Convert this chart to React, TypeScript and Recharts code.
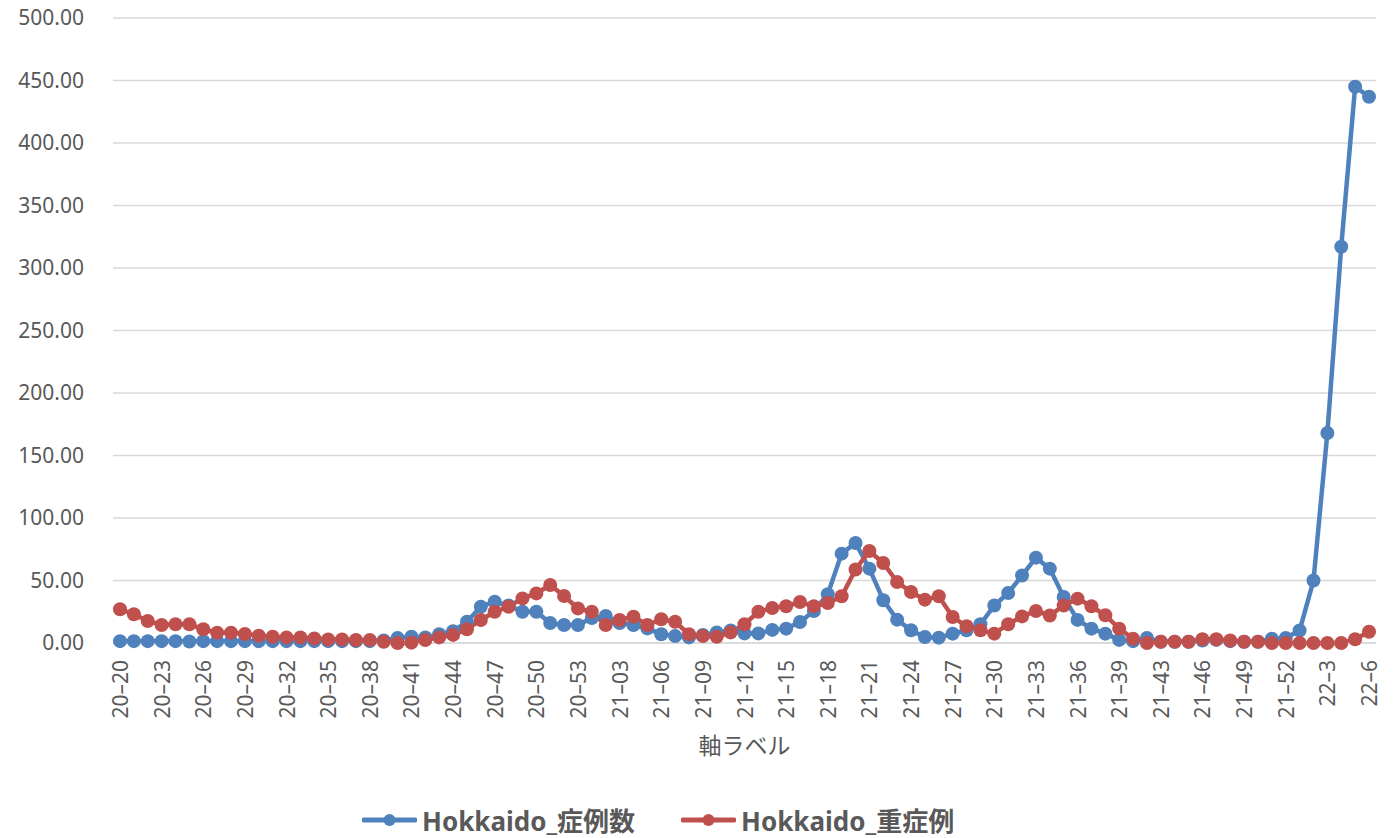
import { LineChart, Line, XAxis, YAxis, CartesianGrid, Legend } from 'recharts';

const weeks = [
  '20–20', '20–21', '20–22', '20–23', '20–24', '20–25', '20–26', '20–27', '20–28', '20–29',
  '20–30', '20–31', '20–32', '20–33', '20–34', '20–35', '20–36', '20–37', '20–38', '20–39',
  '20–40', '20–41', '20–42', '20–43', '20–44', '20–45', '20–46', '20–47', '20–48', '20–49',
  '20–50', '20–51', '20–52', '20–53', '21–01', '21–02', '21–03', '21–04', '21–05', '21–06',
  '21–07', '21–08', '21–09', '21–10', '21–11', '21–12', '21–13', '21–14', '21–15', '21–16',
  '21–17', '21–18', '21–19', '21–20', '21–21', '21–22', '21–23', '21–24', '21–25', '21–26',
  '21–27', '21–28', '21–29', '21–30', '21–31', '21–32', '21–33', '21–34', '21–35', '21–36',
  '21–37', '21–38', '21–39', '21–41', '21–42', '21–43', '21–44', '21–45', '21–46', '21–47',
  '21–48', '21–49', '21–50', '21–51', '21–52', '22–1', '22–2', '22–3', '22–4', '22–5',
  '22–6',
];

const cases = [
  1.5, 1.5, 1.5, 1.5, 1.5, 1.2, 1.5, 1.5, 1.5, 1.5,
  1.5, 1.5, 1.5, 1.5, 1.5, 1.5, 1.5, 1.5, 1.5, 2,
  4, 5, 4.5, 7, 9.5, 17, 29, 33, 30, 25,
  25, 16, 14.4, 14.4, 20, 21.6, 16, 14.4, 11.7, 7,
  5.6, 4.5, 6.4, 8.5, 10, 7.7, 7.7, 10.5, 11.5, 16.8,
  25.6, 39, 71.5, 80, 59.5, 34.2, 18.7, 10.2, 4.8, 4.3,
  7.5, 10.2, 15, 30, 40, 54, 68.3, 59.5, 36.8, 18.5,
  11.5, 7.5, 2.5, 1.5, 4, 1, 1, 1, 2, 2.5,
  1.5, 1, 1, 3.5, 4, 10, 50, 168, 317, 445,
  437,
];

const severe = [
  27, 23, 17.6, 14.4, 15, 15, 11, 8.3, 8.3, 7.2,
  5.9, 5, 4.5, 4.5, 3.7, 2.9, 2.9, 2.4, 2.4, 1,
  0, 0.3, 2.4, 4.5, 6.5, 11, 18.4, 25, 29, 35.7,
  39.7, 46.4, 37.6, 27.7, 25, 14.4, 18.4, 21, 14.4, 19,
  17, 7, 5.6, 5, 8.5, 15, 25, 28, 29.4, 32.8,
  29.4, 32, 37.4, 58.8, 73.6, 64, 48.8, 40.8, 34.7, 37.4,
  20.8, 13.4, 10.2, 7.5, 15, 21.3, 25.6, 22, 30, 35.5,
  29.4, 22.2, 11.5, 3.5, 0, 1, 1, 1, 3, 3,
  2, 1, 1, 0, 0, 0, 0, 0, 0, 3,
  9,
];

const yTicks = [0, 50, 100, 150, 200, 250, 300, 350, 400, 450, 500];

const BLUE = '#4f81bd';
const RED = '#c0504d';
const TEXT = '#595959';
const FONT = '"Noto Sans", "Noto Sans CJK JP", sans-serif';

const data = weeks.map((w, i) => ({
  week: w,
  cases: cases[i],
  severe: severe[i],
}));

function WeekTick({ x, y, payload }: any) {
  const ty = y + 17;
  return (
    <text
      x={x}
      y={ty}
      transform={`rotate(-90, ${x}, ${ty})`}
      textAnchor="end"
      dominantBaseline="central"
      fill={TEXT}
      fontSize={21}
      fontFamily={FONT}
    >
      {payload.value}
    </text>
  );
}

function LegendItem({ color, label }: { color: string; label: string }) {
  return (
    <div style={{ display: 'flex', alignItems: 'center' }}>
      <svg width={55} height={16} style={{ marginRight: 5 }}>
        <line x1={2} y1={8} x2={53} y2={8} stroke={color} strokeWidth={5} strokeLinecap="round" />
        <circle cx={27.5} cy={8} r={6} fill={color} />
      </svg>
      <span style={{ fontSize: 26, fontWeight: 'bold', color: TEXT, fontFamily: FONT, whiteSpace: 'nowrap' }}>
        {label}
      </span>
    </div>
  );
}

function ChartLegend() {
  return (
    <div style={{ display: 'flex', alignItems: 'center', height: 36, paddingLeft: 362, gap: 46 }}>
      <LegendItem color={BLUE} label="Hokkaido_症例数" />
      <LegendItem color={RED} label="Hokkaido_重症例" />
    </div>
  );
}

export default function App() {
  return (
    <div style={{ position: 'absolute', left: 0, top: 0, width: 1396, height: 838, background: '#fff' }}>
      <LineChart
        width={1396}
        height={838}
        data={data}
        margin={{ top: 18, right: 20, left: 0, bottom: 0 }}
      >
        <CartesianGrid vertical={false} stroke="#d9d9d9" strokeWidth={1.3} />
        <XAxis
          dataKey="week"
          interval={2}
          height={159}
          padding={{ left: 7, right: 7 }}
          tickLine={false}
          tickSize={0}
          tickMargin={0}
          axisLine={{ stroke: '#d9d9d9', strokeWidth: 1.3 }}
          tick={<WeekTick />}
          label={{
            value: '軸ラベル',
            position: 'insideBottom',
            offset: 48,
            fill: TEXT,
            fontSize: 23,
            fontFamily: FONT,
          }}
        />
        <YAxis
          width={113}
          domain={[0, 500]}
          ticks={yTicks}
          axisLine={false}
          tickLine={false}
          tickSize={0}
          tickMargin={29}
          tickFormatter={(v: number) => v.toFixed(2)}
          tick={{ fill: TEXT, fontSize: 21, fontFamily: FONT }}
        />
        <Legend verticalAlign="bottom" height={36} content={() => <ChartLegend />} />
        <Line
          dataKey="cases"
          name="Hokkaido_症例数"
          stroke={BLUE}
          strokeWidth={4.5}
          dot={{ r: 7, fill: BLUE, stroke: 'none' }}
          activeDot={false}
          isAnimationActive={false}
        />
        <Line
          dataKey="severe"
          name="Hokkaido_重症例"
          stroke={RED}
          strokeWidth={4.5}
          dot={{ r: 7, fill: RED, stroke: 'none' }}
          activeDot={false}
          isAnimationActive={false}
        />
      </LineChart>
    </div>
  );
}
